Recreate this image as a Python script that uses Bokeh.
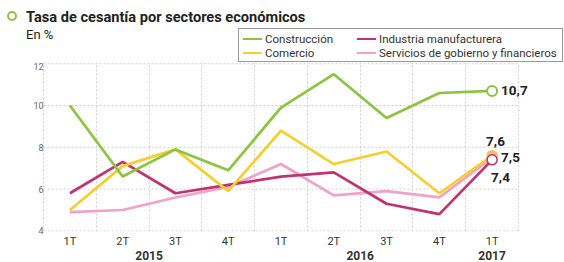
from bokeh.plotting import figure
from bokeh.layouts import column
from bokeh.models import Range1d, FixedTicker, Label, LinearAxis, Div
from bokeh.embed import file_html
from bokeh.resources import INLINE

quarters = ["1T", "2T", "3T", "4T", "1T", "2T", "3T", "4T", "1T"]
years = ["2015", "2016", "2017"]
year_centers = [1.5, 5.5, 8]
construccion = [10.0, 6.6, 7.9, 6.9, 9.9, 11.5, 9.4, 10.6, 10.7]
comercio = [5.0, 7.1, 7.9, 5.9, 8.8, 7.2, 7.8, 5.8, 7.6]
industria = [5.8, 7.3, 5.8, 6.2, 6.6, 6.8, 5.3, 4.8, 7.4]
servicios = [4.9, 5.0, 5.6, 6.1, 7.2, 5.7, 5.9, 5.6, 7.5]
y_ticks = [4, 6, 8, 10, 12]
series_names = ["Construcción", "Comercio", "Industria manufacturera",
                "Servicios de gobierno y financieros"]
title_text = "Tasa de cesantía por sectores económicos"
unit_text = "En %"

GREEN = "#8cc43f"
YELLOW = "#f5cf2e"
MAGENTA = "#c23271"
PINK = "#f2a2c9"
ORANGE = "#f6bd6a"
GRID = "#cfcfcf"
FONT = "Roboto"
colors = [GREEN, YELLOW, MAGENTA, PINK]

W = 564
HEAD_H = 62
MAIN_H = 200

# ---------------- header (title, subtitle, legend) ----------------
slots = [(0, 0), (0, 1), (1, 0), (1, 1)]
col_left = [4, 118]
row_mid = [10, 24]
items_html = ""
for (c, r), name, colr in zip(slots, series_names, colors):
    items_html += (
        f'<div style="position:absolute;left:{col_left[c]}px;top:{row_mid[r] - 1.25}px;'
        f'width:19px;height:2.5px;background:{colr};"></div>'
        f'<div style="position:absolute;left:{col_left[c] + 22}px;top:{row_mid[r] - 7}px;'
        f'line-height:14px;font-size:11.5px;color:#333333;white-space:nowrap;">{name}</div>'
    )

head_html = (
    f'<div style="position:relative;width:{W}px;height:{HEAD_H}px;font-family:{FONT};'
    f'background:white;overflow:hidden;">'
    f'<div style="position:absolute;left:7px;top:11px;width:10px;height:10px;box-sizing:border-box;'
    f'border:2.5px solid {GREEN};border-radius:50%;"></div>'
    f'<div style="position:absolute;left:26px;top:8px;line-height:18px;font-size:14.6px;'
    f'font-weight:bold;color:#222222;white-space:nowrap;">{title_text}</div>'
    f'<div style="position:absolute;left:26px;top:27px;line-height:16px;font-size:13px;'
    f'color:#222222;">{unit_text}</div>'
    f'<div style="position:absolute;left:238px;top:28px;width:325px;height:34px;box-sizing:border-box;'
    f'border:1px solid #999999;background:white;">{items_html}</div>'
    f'</div>'
)
head = Div(text=head_html, width=W, height=HEAD_H, margin=0)

# ---------------- main chart ----------------
x = list(range(len(quarters)))
px_per_cat = 52.78
x_start = -0.5
x_end = len(quarters) - 0.5 + 15 / px_per_cat
left_pad = 1 / px_per_cat
LEFT = 42
frame_w = int(round((x_end - x_start + left_pad) * px_per_cat))

p = figure(width=W, height=MAIN_H, output_backend="svg", toolbar_location=None,
           x_range=Range1d(x_start - left_pad, x_end), y_range=Range1d(4 - 0.03, 12.06),
           min_border_left=LEFT, min_border_right=W - LEFT - frame_w,
           min_border_top=0, min_border_bottom=30, margin=0)
p.outline_line_color = None
p.background_fill_color = "white"
p.border_fill_color = "white"

p.xaxis.ticker = FixedTicker(ticks=x)
p.xaxis.major_label_overrides = {i: q for i, q in enumerate(quarters)}
p.xaxis.axis_line_color = None
p.xaxis.major_tick_line_color = None
p.xaxis.minor_tick_line_color = None
p.xaxis.major_tick_out = 0
p.xaxis.major_label_text_font = FONT
p.xaxis.major_label_text_font_size = "11px"
p.xaxis.major_label_text_color = "#333333"
p.xaxis.major_label_standoff = 3

year_axis = LinearAxis(ticker=FixedTicker(ticks=year_centers),
                       major_label_overrides={c: yv for c, yv in zip(year_centers, years)},
                       axis_line_color=None, major_tick_line_color=None, minor_tick_line_color=None,
                       major_tick_out=0, minor_tick_out=0, major_label_standoff=0,
                       major_label_text_font=FONT, major_label_text_font_style="bold",
                       major_label_text_font_size="12px", major_label_text_color="#333333")
p.add_layout(year_axis, "below")

p.yaxis.ticker = FixedTicker(ticks=y_ticks)
p.yaxis.axis_line_color = None
p.yaxis.major_tick_line_color = None
p.yaxis.minor_tick_line_color = None
p.yaxis.major_tick_out = 0
p.yaxis.major_tick_in = 0
p.yaxis.major_label_text_font = FONT
p.yaxis.major_label_text_font_size = "9px"
p.yaxis.major_label_text_color = "#666666"
p.yaxis.major_label_standoff = -1
# blank axis label used only as left padding
p.yaxis.axis_label = " "
p.yaxis.axis_label_text_font_size = "8px"
p.yaxis.axis_label_standoff = 18

p.xgrid.ticker = FixedTicker(ticks=[i - 0.5 for i in range(len(quarters) + 1)])
p.xgrid.grid_line_color = GRID
p.xgrid.grid_line_dash = "2 2"
p.ygrid.visible = False
p.segment(x0=[x_start] * len(y_ticks), x1=[len(quarters) - 0.5] * len(y_ticks),
          y0=y_ticks, y1=y_ticks, line_color=GRID, line_dash="2 2", line_width=1)

p.line(x, servicios, line_color=PINK, line_width=2.7)
p.line(x, industria, line_color=MAGENTA, line_width=2.7)
p.line(x, comercio, line_color=YELLOW, line_width=2.7)
p.line(x, construccion, line_color=GREEN, line_width=2.7)

p.scatter([x[-1]], [construccion[-1]], size=10, fill_color="white", line_color=GREEN, line_width=2)
p.scatter([x[-1]], [comercio[-1]], size=10, fill_color=ORANGE, line_color=ORANGE, line_width=1.5)
p.scatter([x[-1]], [industria[-1]], size=10, fill_color="white", line_color=MAGENTA, line_width=1.5)

def fmt(v):
    return ("%.1f" % v).replace(".", ",")

lab_kw = dict(text_font=FONT, text_font_style="bold", text_font_size="13.5px",
              text_color="#222222", text_baseline="middle")
p.add_layout(Label(x=x[-1], y=construccion[-1], x_offset=9, text=fmt(construccion[-1]), **lab_kw))
p.add_layout(Label(x=x[-1], y=comercio[-1], x_offset=-6, y_offset=14, text=fmt(comercio[-1]), **lab_kw))
p.add_layout(Label(x=x[-1], y=servicios[-1], x_offset=9, text=fmt(servicios[-1]), **lab_kw))
p.add_layout(Label(x=x[-1], y=industria[-1], x_offset=-1, y_offset=-18, text=fmt(industria[-1]), **lab_kw))

layout = column(head, p, spacing=0)
open("out.html", "w").write(file_html(layout, INLINE))
